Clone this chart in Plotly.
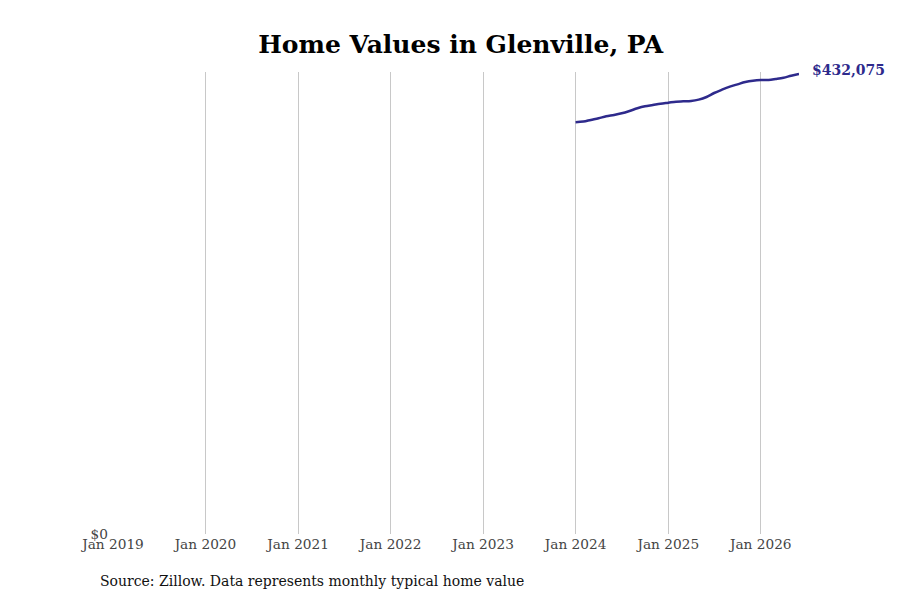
import plotly.graph_objects as go

months = [
    "2024-01-01", "2024-02-01", "2024-03-01", "2024-04-01", "2024-05-01", "2024-06-01",
    "2024-07-01", "2024-08-01", "2024-09-01", "2024-10-01", "2024-11-01", "2024-12-01",
    "2025-01-01", "2025-02-01", "2025-03-01", "2025-04-01", "2025-05-01", "2025-06-01",
    "2025-07-01", "2025-08-01", "2025-09-01", "2025-10-01", "2025-11-01", "2025-12-01",
    "2026-01-01", "2026-02-01", "2026-03-01", "2026-04-01", "2026-05-01", "2026-06-01",
]
home_values = [
    386780, 387400, 388960, 390530, 392400, 393650,
    395210, 397400, 399900, 401770, 403020, 404270,
    405210, 406150, 406460, 406770, 408020, 410520,
    414270, 417390, 420200, 422400, 424580, 425830,
    426450, 426450, 427390, 428640, 430510, 432075,
]
tick_dates = [f"{y}-01-01" for y in range(2019, 2027)]
tick_labels = [f"Jan {y}" for y in range(2019, 2027)]

line_color = "#2e2a8c"
serif = "DejaVu Serif"

fig = go.Figure()

fig.add_trace(
    go.Scatter(
        x=months,
        y=home_values,
        mode="lines",
        line=dict(color=line_color, width=2.5, shape="spline"),
        hoverinfo="skip",
        showlegend=False,
    )
)

# value label at the end of the line
fig.add_annotation(
    x=months[-1],
    y=home_values[-1],
    text=f"<b>${home_values[-1]:,}</b>",
    showarrow=False,
    xanchor="left",
    yanchor="middle",
    xshift=11,
    yshift=4,
    font=dict(family=serif, size=14, color=line_color),
)

fig.add_annotation(
    x=0.0,
    y=-0.1015,
    xref="paper",
    yref="paper",
    xshift=-15,
    text="Source: Zillow. Data represents monthly typical home value",
    showarrow=False,
    xanchor="left",
    yanchor="middle",
    font=dict(family=serif, size=14, color="#111111"),
)

fig.update_layout(
    width=900,
    height=600,
    title=dict(
        text="<b>Home Values in Glenville, PA</b>",
        x=0.503,
        xanchor="center",
        y=0.94,
        yanchor="middle",
        font=dict(family=serif, size=25, color="black"),
    ),
    margin=dict(l=105, r=109, t=64, b=74),
    plot_bgcolor="white",
    paper_bgcolor="white",
    xaxis=dict(
        type="date",
        range=["2019-01-01", "2026-06-01"],
        tickvals=tick_dates,
        ticktext=tick_labels,
        showgrid=True,
        gridcolor="#c8c8c8",
        gridwidth=1,
        showline=False,
        zeroline=False,
        ticks="",
        tickfont=dict(family=serif, size=13.7, color="#444444"),
    ),
    yaxis=dict(
        range=[0, 434000],
        tickvals=[0],
        ticktext=["$0"],
        showgrid=False,
        zeroline=False,
        showline=False,
        ticks="",
        ticklabelstandoff=4,
        tickfont=dict(family=serif, size=13.7, color="#444444"),
    ),
)

fig.write_html("out.html")
